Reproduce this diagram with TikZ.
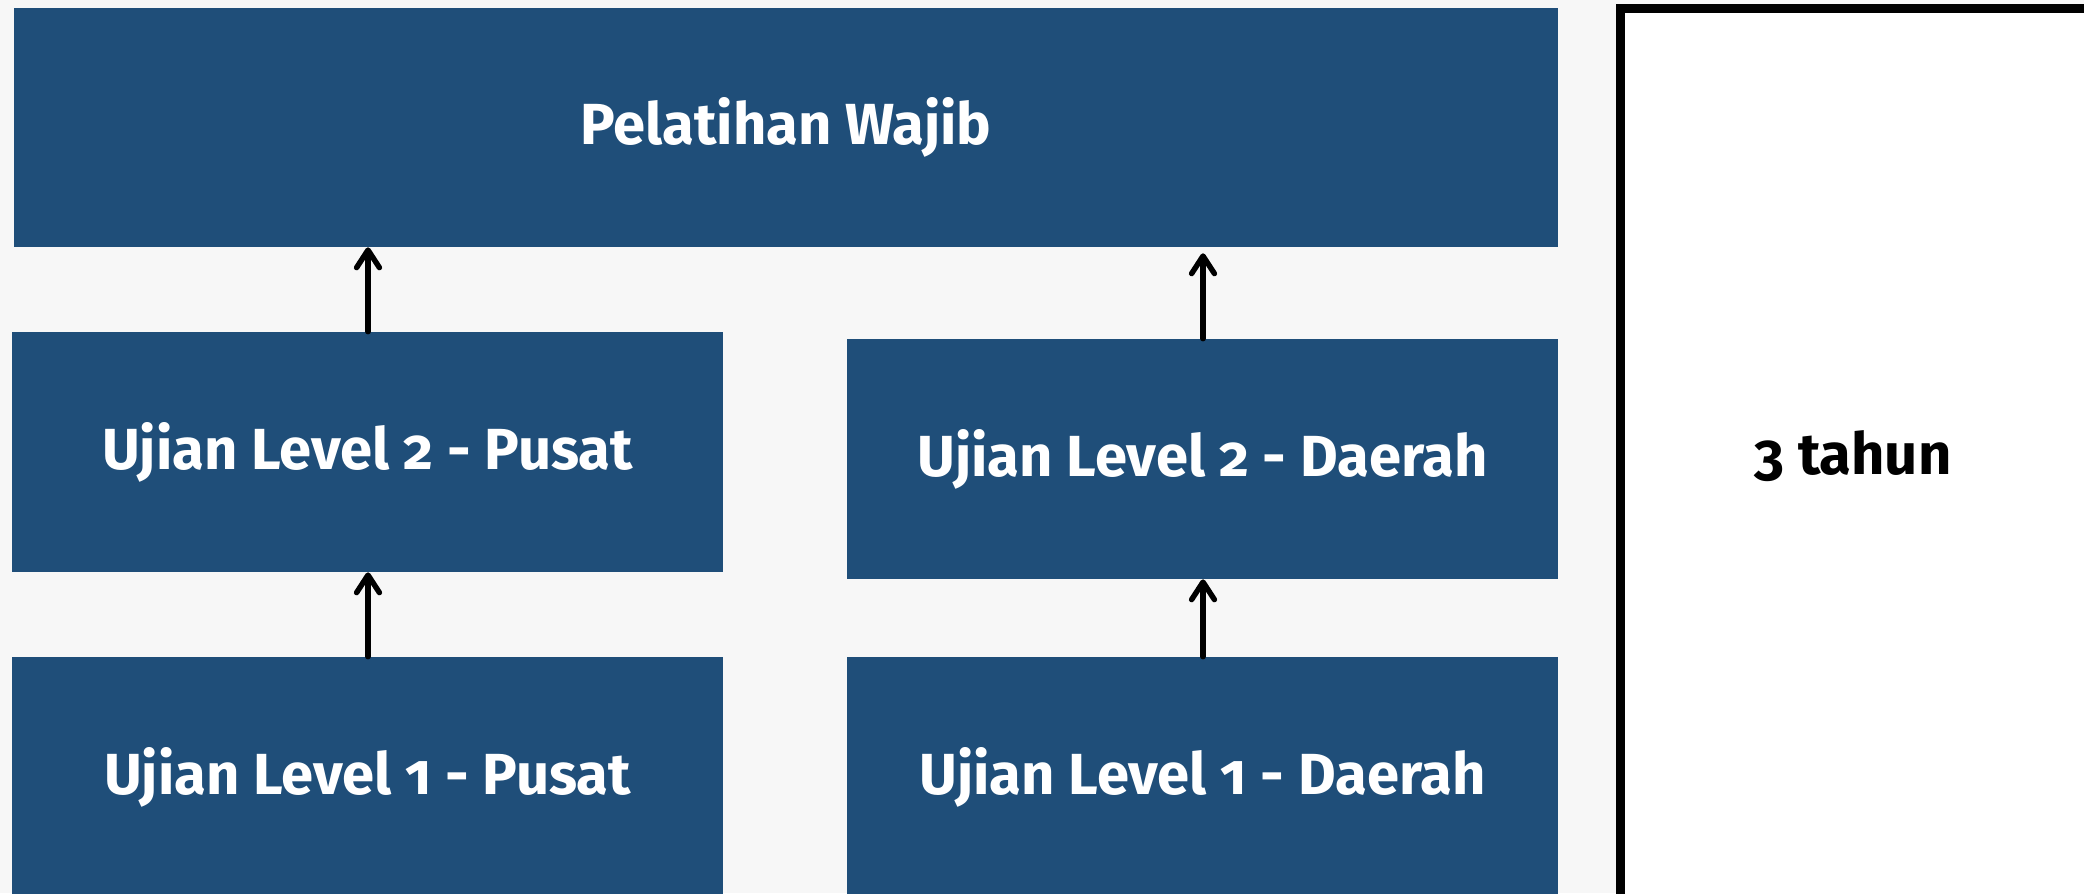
\documentclass[tikz,border=0pt]{standalone}
\usepackage{fontspec}
\setmainfont{Fira Sans}[Numbers=OldStyle]
\usetikzlibrary{arrows.meta}
\definecolor{boxblue}{RGB}{31,78,121}
\definecolor{bggray}{RGB}{247,247,247}
\tikzset{
  bluebox/.style={fill=boxblue, draw=none, text=white, font=\fontsize{33}{40}\selectfont\bfseries, inner sep=0pt},
  arr/.style={draw=black, line width=3.1pt, line cap=round, -{Straight Barb[length=10pt,width=13pt,line cap=round,line join=round]}},
}
\begin{document}
\begin{tikzpicture}[x=0.02cm,y=-0.02cm]
\useasboundingbox (0,0) rectangle (2084,893);
\clip (0,0) rectangle (2084,893);
\fill[bggray] (0,0) rectangle (2084,893);
\node[bluebox, minimum width=30.9cm, minimum height=4.78cm] (top) at (786,127.5) {Pelatihan Wajib};
\node[bluebox, minimum width=14.22cm, minimum height=4.8cm] (l2p) at (367.5,452) {Ujian Level 2 - Pusat};
\node[bluebox, minimum width=14.22cm, minimum height=4.8cm] (l2d) at (1202.5,459) {Ujian Level 2 - Daerah};
\node[bluebox, minimum width=14.22cm, minimum height=4.8cm] (l1p) at (367.5,777) {Ujian Level 1 - Pusat};
\node[bluebox, minimum width=14.22cm, minimum height=4.8cm] (l1d) at (1202.5,777) {Ujian Level 1 - Daerah};
\node[draw=black, fill=white, line width=0.17cm, minimum width=9.4cm, minimum height=17.9cm, anchor=north west, inner sep=0pt] (right) at (1616,4) {};
\node[font=\fontsize{33}{40}\selectfont\bfseries, text=black] (lbl) at (1853,456) {3 tahun};
\coordinate (a1) at (368,0);
\coordinate (a2) at (1203,0);
\draw[arr] (l1p.north -| a1) -- (l2p.south -| a1);
\draw[arr] (l2p.north -| a1) -- (top.south -| a1);
\draw[arr] (l1d.north -| a2) -- (l2d.south -| a2);
\draw[arr, shorten >=3.4pt] (l2d.north -| a2) -- (top.south -| a2);
\end{tikzpicture}
\end{document}
